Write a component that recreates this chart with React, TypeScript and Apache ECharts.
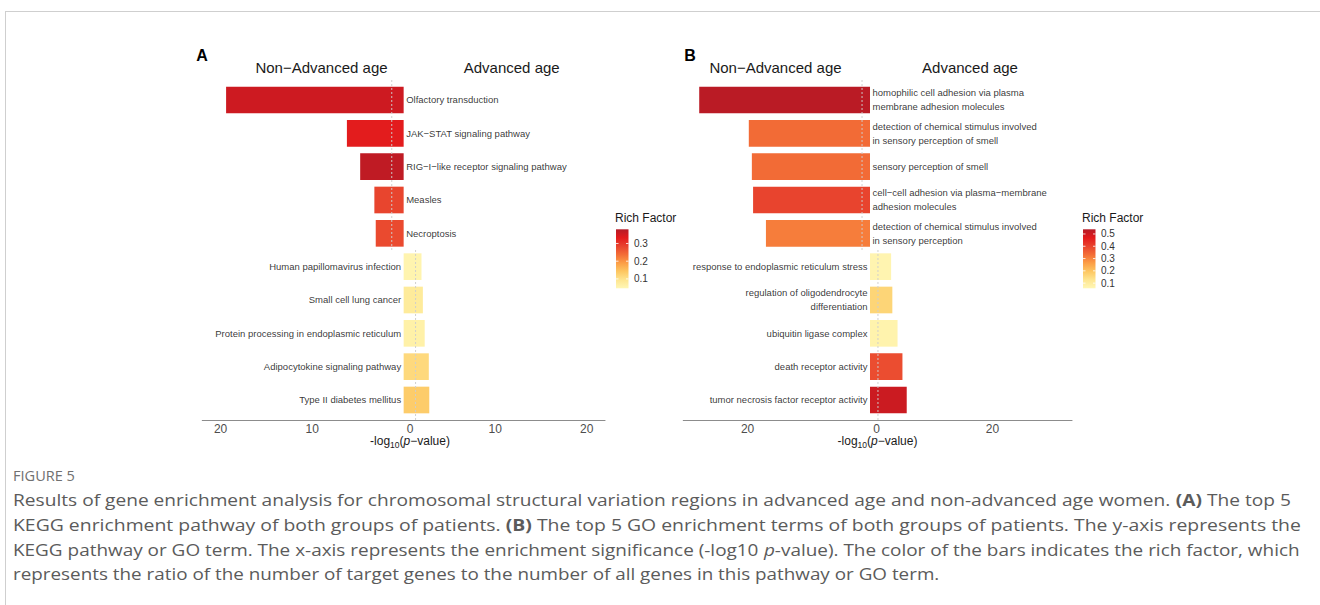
import React, { useEffect, useRef } from "react";
import * as echarts from "echarts";

// ---------- data ----------
const keggCategories = [
  "Olfactory transduction",
  "JAK\u2212STAT signaling pathway",
  "RIG\u2212I\u2212like receptor signaling pathway",
  "Measles",
  "Necroptosis",
  "Human papillomavirus infection",
  "Small cell lung cancer",
  "Protein processing in endoplasmic reticulum",
  "Adipocytokine signaling pathway",
  "Type II diabetes mellitus",
];
// negative = Non-Advanced age, positive = Advanced age
const keggLogP = [-19.4, -6.2, -4.75, -3.2, -3.05, 1.95, 2.1, 2.3, 2.75, 2.8];
const keggRichFactor = [0.355, 0.33, 0.37, 0.283, 0.277, 0.055, 0.08, 0.064, 0.114, 0.134];

const goCategories = [
  "homophilic cell adhesion via plasma\nmembrane adhesion molecules",
  "detection of chemical stimulus involved\nin sensory perception of smell",
  "sensory perception of smell",
  "cell\u2212cell adhesion via plasma\u2212membrane\nadhesion molecules",
  "detection of chemical stimulus involved\nin sensory perception",
  "response to endoplasmic reticulum stress",
  "regulation of oligodendrocyte\ndifferentiation",
  "ubiquitin ligase complex",
  "death receptor activity",
  "tumor necrosis factor receptor activity",
];
const goLogP = [-27.9, -19.8, -19.3, -19.1, -17.0, 3.45, 3.65, 4.5, 5.3, 6.0];
const goRichFactor = [0.53, 0.336, 0.336, 0.4, 0.31, 0.068, 0.164, 0.072, 0.385, 0.505];

const keggTicks = [-20, -10, 0, 10, 20];
const goTicks = [-20, 0, 20];
const keggLegendTicks = [0.1, 0.2, 0.3];
const goLegendTicks = [0.1, 0.2, 0.3, 0.4, 0.5];
const keggRichRange = [0.047, 0.38];
const goRichRange = [0.058, 0.538];
const keggXRange = [-22, 22];
const goXRange = [-30.5, 33];
const threshold = 1.3; // -log10(0.05)

const colorRamp = ["#fff7b5", "#fee590", "#fdc762", "#fc9e46", "#f36d36", "#e8432e", "#e31a1c", "#b51b26"];

const captionLines = [
  "Results of gene enrichment analysis for chromosomal structural variation regions in advanced age and non-advanced age women. {b|(A)} The top 5",
  "KEGG enrichment pathway of both groups of patients. {b|(B)} The top 5 GO enrichment terms of both groups of patients. The y-axis represents the",
  "KEGG pathway or GO term. The x-axis represents the enrichment significance (-log10 {i|p}-value). The color of the bars indicates the rich factor, which",
  "represents the ratio of the number of target genes to the number of all genes in this pathway or GO term.",
];
const captionLineEnds = [1291, 1301, 1300, 940];

const FONT = "'Liberation Sans', Arial, Helvetica, sans-serif";
const CAP_FONT = "'Open Sans', sans-serif";
const CAP_SIZE = 16.5;

const W = 1320;
const H = 605;

// ---------- layout ----------
const panels = [
  {
    cats: keggCategories, vals: keggLogP, rich: keggRichFactor, ticks: keggTicks, xr: keggXRange,
    grid: { left: 202.3, top: 83.33, width: 402.7, height: 333.33 },
    letter: "A", letterX: 202, headL: 321.5, headR: 511.7, titleX: 410,
    legend: { x: 616, y: 229.3, w: 12.5, h: 59, ticks: keggLegendTicks, range: keggRichRange },
  },
  {
    cats: goCategories, vals: goLogP, rich: goRichFactor, ticks: goTicks, xr: goXRange,
    grid: { left: 683.3, top: 83.33, width: 388.7, height: 333.33 },
    letter: "B", letterX: 690, headL: 775.5, headR: 970, titleX: 877.5,
    legend: { x: 1083, y: 229.3, w: 12.5, h: 59, ticks: goLegendTicks, range: goRichRange },
  },
];

function buildOption() {
  const grid = panels.map((p) => ({ ...p.grid }));
  const xAxis = panels.map((p, i) => ({
    type: "value",
    gridIndex: i,
    min: p.xr[0],
    max: p.xr[1],
    position: "bottom",
    offset: 3.33,
    axisLine: { show: true, lineStyle: { color: "#8c8c8c", width: 1.1 } },
    axisTick: { show: false },
    splitLine: { show: false },
    axisLabel: {
      customValues: p.ticks,
      margin: 3,
      color: "#4d4d4d",
      fontSize: 12,
      fontFamily: FONT,
      formatter: (v: number) => (v === 0 ? "{z|0}" : String(Math.abs(v))),
      rich: { z: { padding: [0, 0, 0, 13], color: "#4d4d4d", fontSize: 12, fontFamily: FONT } },
    },
  }));
  const yAxis = panels.map((p, i) => ({
    type: "category",
    gridIndex: i,
    inverse: true,
    data: p.cats,
    show: false,
  }));
  const series: any[] = [];
  panels.forEach((p, i) => {
    series.push({
      type: "bar",
      xAxisIndex: i,
      yAxisIndex: i,
      barWidth: "80%",
      encode: { x: 0, y: 1 },
      data: p.cats.map((c, k) => [p.vals[k], c, p.rich[k]]),
      z: 2,
    });
  });
  panels.forEach((p, i) => {
    series.push({
      type: "scatter",
      xAxisIndex: i,
      yAxisIndex: i,
      symbolSize: 1,
      itemStyle: { color: "rgba(0,0,0,0)" },
      encode: { x: 0, y: 1 },
      silent: true,
      z: 5,
      data: p.cats.map((c, k) => ({
        name: c,
        value: [0, c],
        label: { position: p.vals[k] < 0 ? "right" : "left" },
      })),
      label: {
        show: true,
        formatter: "{b}",
        distance: 2,
        color: "#000000",
        fontSize: 9.5,
        lineHeight: 14,
        fontFamily: FONT,
      },
    });
  });
  const visualMap = panels.map((p, i) => ({
    type: "continuous",
    show: false,
    seriesIndex: i,
    dimension: 2,
    min: p.legend.range[0],
    max: p.legend.range[1],
    inRange: { color: colorRamp },
  }));
  return { animation: false, backgroundColor: "#ffffff", grid, xAxis, yAxis, series, visualMap };
}

let measureCtx: CanvasRenderingContext2D | null = null;
function measureRich(line: string, size: number): number {
  if (!measureCtx) measureCtx = document.createElement("canvas").getContext("2d");
  const ctx = measureCtx!;
  const fontFor = (k: string) =>
    (k === "b" ? "bold " : k === "i" ? "italic " : "") + size + "px " + CAP_FONT;
  const re = /\{(\w)\|([^}]*)\}/g;
  let last = 0;
  let w = 0;
  let m: RegExpExecArray | null;
  while ((m = re.exec(line))) {
    ctx.font = fontFor("");
    w += ctx.measureText(line.slice(last, m.index)).width;
    ctx.font = fontFor(m[1]);
    w += ctx.measureText(m[2]).width;
    last = re.lastIndex;
  }
  ctx.font = fontFor("");
  w += ctx.measureText(line.slice(last)).width;
  return w;
}

function staticGraphics(chart: any) {
  const els: any[] = [];
  // page frame
  els.push({ type: "line", shape: { x1: 5, y1: 11.5, x2: W, y2: 11.5 }, style: { stroke: "#cfcfcf", lineWidth: 1 }, silent: true });
  els.push({ type: "line", shape: { x1: 5.5, y1: 11, x2: 5.5, y2: H }, style: { stroke: "#cfcfcf", lineWidth: 1 }, silent: true });

  panels.forEach((p, gi) => {
    const px = (x: number, c: string) => chart.convertToPixel({ gridIndex: gi }, [x, c]);
    const y0 = px(0, p.cats[0])[1];
    const y9 = px(0, p.cats[p.cats.length - 1])[1];
    const band = (y9 - y0) / (p.cats.length - 1);
    const top = y0 - 0.6 * band;
    const bottom = y9 + 0.6 * band;
    const mid = (px(0, p.cats[4])[1] + px(0, p.cats[5])[1]) / 2;
    const xl = px(-threshold, p.cats[0])[0];
    const xr = px(threshold, p.cats[0])[0];
    const dash = { stroke: "rgba(205,205,205,0.95)", lineWidth: 1, lineDash: [2, 2] };
    els.push({ type: "line", z: 20, silent: true, shape: { x1: xl, y1: top, x2: xl, y2: mid }, style: dash });
    els.push({ type: "line", z: 20, silent: true, shape: { x1: xr, y1: mid, x2: xr, y2: bottom }, style: dash });

    // panel letter
    els.push({ type: "text", x: p.letterX, y: 55, silent: true,
      style: { text: p.letter, fontSize: 16, fontWeight: "bold", fontFamily: FONT, fill: "#000", align: "center", verticalAlign: "middle" } });
    // headers
    els.push({ type: "text", x: p.headL, y: 67.5, silent: true,
      style: { text: "Non\u2212Advanced age", fontSize: 15, fontFamily: FONT, fill: "#1a1a1a", align: "center", verticalAlign: "middle" } });
    els.push({ type: "text", x: p.headR, y: 67.5, silent: true,
      style: { text: "Advanced age", fontSize: 15, fontFamily: FONT, fill: "#1a1a1a", align: "center", verticalAlign: "middle" } });
    // x axis title
    const tk = { fontSize: 12, fontFamily: FONT, fill: "#1a1a1a" };
    els.push({ type: "text", x: p.titleX, y: 441, silent: true,
      style: {
        text: "-log{s|10}({i|p}\u2212value)", ...tk, align: "center", verticalAlign: "middle",
        rich: {
          s: { fontSize: 8.5, fontFamily: FONT, fill: "#1a1a1a", padding: [7, 0, 0, 0] },
          i: { ...tk, fontStyle: "italic" },
        },
      } });

    // legend
    const L = p.legend;
    els.push({ type: "text", x: L.x - 1, y: 218, silent: true,
      style: { text: "Rich Factor", fontSize: 12, fontFamily: FONT, fill: "#1a1a1a", align: "left", verticalAlign: "middle" } });
    const stops = colorRamp.map((c, k) => ({ offset: 1 - k / (colorRamp.length - 1), color: c })).reverse();
    els.push({ type: "rect", silent: true, shape: { x: L.x, y: L.y, width: L.w, height: L.h },
      style: { fill: new echarts.graphic.LinearGradient(0, 0, 0, 1, stops) } });
    L.ticks.forEach((v) => {
      const ty = L.y + ((L.range[1] - v) / (L.range[1] - L.range[0])) * L.h;
      els.push({ type: "line", silent: true, z: 3, shape: { x1: L.x, y1: ty, x2: L.x + 2.5, y2: ty }, style: { stroke: "rgba(255,255,255,0.8)", lineWidth: 1 } });
      els.push({ type: "line", silent: true, z: 3, shape: { x1: L.x + L.w - 2.5, y1: ty, x2: L.x + L.w, y2: ty }, style: { stroke: "rgba(255,255,255,0.8)", lineWidth: 1 } });
      els.push({ type: "text", x: L.x + 18, y: ty, silent: true,
        style: { text: v.toFixed(1), fontSize: 10, fontFamily: FONT, fill: "#333", align: "left", verticalAlign: "middle" } });
    });
  });

  // caption
  const cap = { fontSize: CAP_SIZE, fontFamily: CAP_FONT, fill: "#5b5b5b" };
  const capRich = {
    b: { ...cap, fontWeight: "bold" },
    i: { ...cap, fontStyle: "italic" },
  };
  const figW = measureRich("FIGURE 5", 14) || 62;
  els.push({ type: "text", x: 13, y: 476, silent: true, scaleX: 62 / figW,
    style: { text: "FIGURE 5", fontSize: 14, fontFamily: CAP_FONT, fill: "#707070", align: "left", verticalAlign: "middle" } });
  captionLines.forEach((t, k) => {
    const mw = measureRich(t, CAP_SIZE);
    const sx = mw > 0 ? (captionLineEnds[k] - 13) / mw : 1;
    els.push({ type: "text", x: 13, y: 500 + k * 24.5, silent: true, scaleX: sx,
      style: { text: t, ...cap, align: "left", verticalAlign: "middle", rich: capRich } });
  });
  return els;
}

export default function App() {
  const ref = useRef<HTMLDivElement>(null);
  useEffect(() => {
    if (!ref.current) return;
    const chart = echarts.init(ref.current, null, { renderer: "svg", width: W, height: H });
    chart.setOption(buildOption());
    chart.setOption({ graphic: { elements: staticGraphics(chart) } });
    return () => chart.dispose();
  }, []);
  return (
    <div
      ref={ref}
      style={{ position: "absolute", left: 0, top: 0, width: W, height: H, background: "#fff" }}
    />
  );
}
